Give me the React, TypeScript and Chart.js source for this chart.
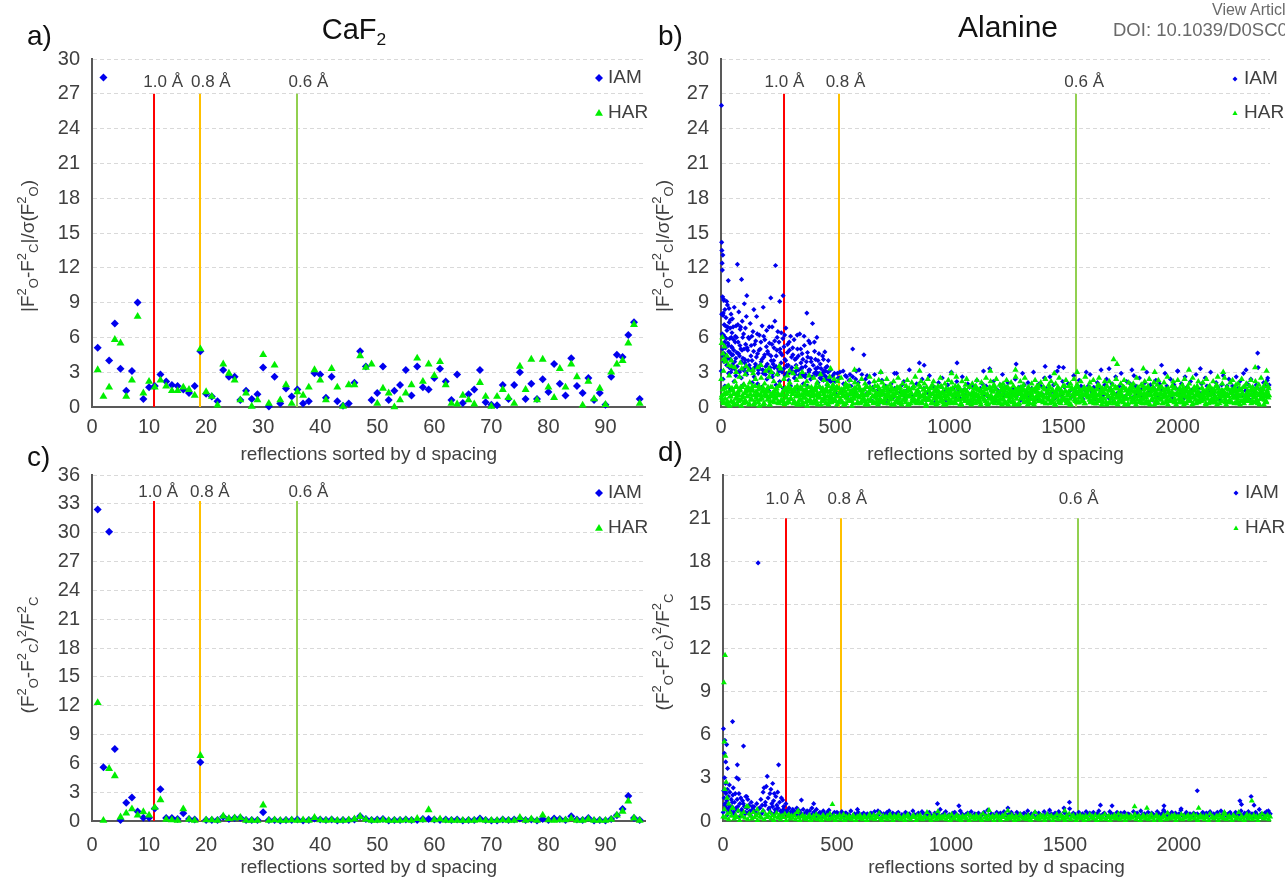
import React, { useEffect, useRef } from 'react';
import { Chart, registerables } from 'chart.js';

Chart.register(...registerables);

// ---------------- data ----------------
const lineLabels = ['1.0 Å', '0.8 Å', '0.6 Å'];
const cafLineX = [10.9, 18.9, 36.0];
const alaLineX = [278, 519, 1556];

const cafXTicks = [0, 10, 20, 30, 40, 50, 60, 70, 80, 90];
const alaXTicks = [0, 500, 1000, 1500, 2000];
const yTickStep = 3;

// CaF2, reflections 1..96
const cafSigmaIAM = [
  5.1, 28.4, 4.0, 7.2, 3.3, 1.4, 3.1, 9.0, 0.7, 1.7,
  1.8, 2.8, 2.2, 1.9, 1.8, 1.5, 1.2, 1.8, 4.8, 1.15,
  0.9, 0.5, 3.2, 2.6, 2.6, 0.6, 1.4, 0.7, 1.1, 3.4,
  0.05, 2.6, 0.3, 1.6, 0.9, 1.5, 0.3, 0.5, 2.9, 2.8,
  0.8, 2.6, 0.5, 0.1, 0.3, 2.1, 4.8, 3.5, 0.6, 1.2,
  3.5, 0.6, 1.4, 1.9, 3.2, 1.0, 3.5, 1.7, 1.5, 2.5,
  3.3, 2.2, 0.6, 2.8, 0.35, 1.1, 1.5, 3.2, 0.4, 0.2,
  0.15, 1.9, 0.7, 1.9, 3.0, 0.7, 2.0, 0.7, 2.4, 1.3,
  3.7, 2.0, 1.0, 4.2, 1.8, 1.2, 2.5, 0.6, 1.2, 0.2,
  2.6, 4.5, 4.3, 6.2, 7.3, 0.7,
];
const cafSigmaHAR = [
  3.2, 0.9, 1.7, 5.8, 5.5, 0.9, 2.3, 7.8, 1.2, 2.2,
  1.7, 2.3, 1.8, 1.4, 1.4, 1.7, 1.5, 1.0, 5.0, 1.3,
  0.9, 0.15, 3.7, 2.9, 2.3, 0.6, 1.2, 0.05, 0.6, 4.5,
  0.3, 3.6, 0.6, 1.9, 0.3, 1.3, 1.0, 1.7, 3.2, 2.3,
  0.6, 3.3, 1.7, 0.05, 1.9, 1.9, 4.4, 3.4, 3.7, 0.3,
  1.6, 1.2, 0.0, 0.6, 1.2, 1.9, 4.2, 2.2, 3.7, 2.7,
  3.9, 1.9, 0.3, 0.25, 1.0, 0.6, 0.25, 2.1, 0.9, 0.05,
  0.9, 1.5, 0.8, 0.3, 3.5, 1.5, 4.1, 0.6, 4.1, 1.7,
  0.8, 3.3, 1.7, 3.7, 2.6, 0.15, 2.2, 0.7, 1.6, 0.2,
  3.0, 3.7, 4.0, 5.5, 7.1, 0.3,
];
const cafChiIAM = [
  32.4, 5.6, 30.1, 7.5, 0.1, 1.9, 2.45, 1.0, 0.35, 0.35,
  1.3, 3.3, 0.3, 0.3, 0.2, 0.8, 0.2, 0.15, 6.1, 0.1,
  0.1, 0.1, 0.45, 0.2, 0.3, 0.35, 0.1, 0.1, 0.1, 0.9,
  0.1, 0.1, 0.05, 0.1, 0.1, 0.15, 0.05, 0.1, 0.25, 0.15,
  0.1, 0.15, 0.05, 0.1, 0.1, 0.15, 0.5, 0.2, 0.1, 0.15,
  0.2, 0.05, 0.1, 0.1, 0.15, 0.1, 0.1, 0.2, 0.2, 0.15,
  0.1, 0.15, 0.1, 0.15, 0.05, 0.1, 0.1, 0.25, 0.1, 0.05,
  0.05, 0.15, 0.1, 0.15, 0.25, 0.1, 0.15, 0.05, 0.2, 0.1,
  0.25, 0.2, 0.1, 0.5, 0.15, 0.1, 0.3, 0.05, 0.1, 0.05,
  0.2, 0.6, 1.25, 2.6, 0.3, 0.1,
];
const cafChiHAR = [
  12.3, 0.05, 5.45, 4.7, 0.4, 0.8, 1.25, 0.6, 0.95, 0.6,
  1.4, 2.2, 0.15, 0.1, 0.05, 1.25, 0.15, 0.05, 6.8, 0.1,
  0.1, 0.05, 0.5, 0.25, 0.3, 0.35, 0.05, 0.05, 0.05, 1.65,
  0.05, 0.1, 0.05, 0.05, 0.1, 0.05, 0.1, 0.05, 0.35, 0.1,
  0.05, 0.1, 0.05, 0.05, 0.1, 0.2, 0.45, 0.15, 0.05, 0.05,
  0.1, 0.05, 0.05, 0.05, 0.1, 0.05, 0.25, 0.1, 1.15, 0.1,
  0.2, 0.05, 0.05, 0.05, 0.05, 0.05, 0.05, 0.1, 0.05, 0.05,
  0.05, 0.1, 0.05, 0.05, 0.35, 0.05, 0.2, 0.05, 0.6, 0.1,
  0.05, 0.1, 0.1, 0.25, 0.05, 0.05, 0.2, 0.05, 0.05, 0.05,
  0.15, 0.6, 1.0, 2.05, 0.3, 0.05,
];

// Alanine |Fo2-Fc2|/sigma : dense band sampled every few reflections
const alaSigmaHARStep = 5;
const alaSigmaHARFirst = 1;
const alaSigmaHARBand = [
  2.4, 0.6, 3.1, 1.2, 4.0, 0.3, 1.8, 2.7, 0.9, 3.5, 1.5, 0.2, 2.2, 3.0, 1.1, 0.5, 2.6, 1.7, 3.3, 0.8,
  1.9, 2.8, 0.4, 1.4, 3.2, 2.1, 0.7, 1.6, 2.9, 0.3, 2.4, 1.0, 3.4, 1.8, 0.6, 2.5, 1.3, 0.2, 2.0, 3.1,
  0.9, 1.7, 2.6, 0.5, 3.0, 1.2, 2.2, 0.8, 1.5, 2.8, 0.4, 1.9, 3.3, 1.1, 0.6, 2.4, 1.4, 0.3, 2.7, 1.8,
  2.1, 0.7, 1.3, 2.9, 0.5, 1.6, 2.3, 1.0, 0.2, 2.6, 1.5, 3.0, 0.8, 1.9, 0.4, 2.2, 1.2, 2.7, 0.6, 1.7,
  1.4, 2.5, 0.3, 1.8, 2.1, 0.9, 1.1, 2.8, 0.5, 1.6, 2.3, 0.7, 1.3, 2.0, 0.2, 2.6, 1.5, 0.8, 1.9, 2.4,
  0.6, 1.7, 2.2, 0.4, 1.2, 2.5, 0.9, 1.5, 0.2, 2.0, 1.1, 0.7, 1.8, 2.3, 0.5, 1.3, 0.9, 2.1, 1.6, 0.3,
  1.9, 0.8, 1.4, 2.4, 0.6, 1.0, 2.0, 0.3, 1.7, 1.2, 2.6, 0.5, 1.5, 0.9, 2.2, 1.1, 0.4, 1.8, 2.3, 0.7,
  1.3, 2.1, 0.5, 1.6, 0.9, 2.4, 1.2, 0.3, 1.9, 0.7, 1.5, 2.2, 1.0, 0.4, 1.7, 2.5, 0.8, 1.4, 0.2, 2.0,
  1.1, 0.6, 1.8, 2.3, 0.9, 1.4, 0.3, 2.1, 1.6, 0.7, 2.6, 1.2, 0.5, 1.9, 1.0, 2.2, 0.4, 1.5, 2.0, 0.8,
  1.7, 2.4, 0.6, 1.2, 0.3, 1.9, 2.2, 0.9, 1.4, 0.5, 1.8, 1.1, 2.5, 0.7, 1.3, 0.2, 2.0, 1.6, 0.9, 2.3,
  0.5, 1.5, 2.1, 1.0, 0.4, 1.8, 2.6, 1.2, 0.7, 1.6, 0.3, 2.2, 1.4, 0.8, 1.9, 2.4, 0.6, 1.1, 1.7, 0.2,
  2.0, 1.3, 0.6, 1.8, 2.3, 0.9, 1.5, 0.4, 2.1, 1.2, 0.7, 1.7, 2.5, 1.0, 0.3, 1.6, 2.2, 0.8, 1.4, 1.9,
  0.7, 2.4, 1.1, 0.5, 1.9, 1.4, 0.2, 2.0, 1.7, 0.9, 2.3, 1.2, 0.6, 1.5, 2.1, 0.4, 1.8, 1.0, 2.6, 1.3,
  1.6, 0.3, 2.2, 1.4, 0.8, 1.9, 2.5, 1.1, 0.5, 1.7, 1.2, 0.7, 2.0, 1.5, 0.2, 2.3, 0.9, 1.3, 1.8, 0.6,
  2.1, 1.0, 0.4, 1.6, 2.4, 0.8, 1.3, 1.9, 0.3, 2.2, 1.5, 0.6, 1.1, 2.0, 0.9, 1.7, 2.5, 0.5, 1.4, 1.2,
  0.8, 1.8, 2.3, 0.6, 1.2, 0.3, 2.0, 1.6, 1.0, 2.4, 0.7, 1.4, 1.9, 0.4, 1.5, 2.2, 1.1, 0.5, 1.7, 2.6,
  1.3, 0.9, 1.7, 2.1, 0.5, 1.5, 2.3, 0.8, 1.2, 0.3, 1.9, 2.5, 1.0, 0.6, 1.6, 1.2, 2.2, 0.4, 1.8, 0.9,
  2.2, 1.4, 0.7, 1.9, 1.1, 0.3, 2.4, 1.6, 0.9, 1.3, 2.0, 0.5, 1.7, 2.3, 0.8, 1.5, 0.2, 2.1, 1.2, 1.8,
  0.6, 2.0, 1.3, 0.9, 2.5, 1.7, 0.4, 1.2, 1.9, 0.7, 1.5, 2.2, 1.0, 0.3, 1.8, 2.4, 1.1, 0.6, 1.6, 2.1,
  1.4, 0.5, 1.9, 2.3, 0.8, 1.2, 1.7, 0.3, 2.1, 1.5, 0.9, 2.6, 1.3, 0.6, 1.0, 1.8, 2.2, 0.4, 1.6, 1.1,
  2.3, 0.7, 1.5, 1.0, 1.9, 0.4, 2.4, 1.3, 0.8, 1.7, 2.0, 0.5, 1.2, 2.5, 0.9, 1.4, 0.3, 1.8, 2.2, 1.0,
  0.9, 1.6, 2.1, 0.6, 1.3, 2.4, 1.0, 0.3, 1.8, 1.2, 0.7, 2.2, 1.5, 0.4, 1.9, 2.6, 1.1, 0.8, 1.4, 2.0,
  1.2, 2.5, 0.6, 1.7, 1.0, 0.4, 2.1, 1.5, 2.3, 0.8, 1.3, 1.9, 0.5, 2.0, 1.6, 0.9, 2.4, 1.1, 0.3, 1.7,
  2.0, 1.1, 0.7, 1.8, 2.3, 0.5, 1.4, 0.9, 2.2, 1.6, 0.3, 1.9, 1.2, 2.5, 0.8, 1.5, 0.6, 2.1, 1.3, 1.8,
  1.0,
];
const alaSigmaHARFirst2 = 3;
const alaSigmaHARBand2 = [
  0.8, 1.5, 0.3, 1.1, 1.7, 0.5, 1.3, 0.1, 0.9, 1.6, 0.4, 1.2, 0.7, 1.8, 0.2, 1.0, 1.4, 0.6, 1.7, 0.3,
  1.2, 0.5, 1.6, 0.9, 0.2, 1.4, 0.7, 1.8, 1.0, 0.4, 1.3, 0.6, 1.5, 0.1, 1.1, 0.8, 1.7, 0.3, 1.0, 1.4,
  0.6, 1.3, 0.2, 1.7, 0.9, 1.1, 0.4, 1.5, 0.7, 1.2, 0.3, 1.8, 0.5, 1.0, 1.4, 0.2, 1.6, 0.8, 1.3, 0.4,
  1.5, 0.7, 1.1, 0.3, 1.6, 0.9, 0.2, 1.3, 0.6, 1.7, 1.0, 0.4, 1.2, 0.8, 1.5, 0.1, 1.1, 0.6, 1.4, 0.9,
  0.3, 1.0, 1.6, 0.5, 1.2, 0.8, 1.7, 0.2, 1.4, 0.6, 1.1, 0.3, 1.5, 0.9, 0.4, 1.3, 0.7, 1.8, 0.5, 1.1,
  1.4, 0.2, 0.9, 1.6, 0.6, 1.2, 0.4, 1.0, 1.7, 0.3, 0.8, 1.5, 0.5, 1.3, 0.1, 1.1, 0.7, 1.4, 0.9, 0.4,
  0.9, 1.6, 0.4, 1.2, 0.7, 1.5, 0.2, 1.0, 0.6, 1.3, 1.7, 0.5, 0.9, 0.3, 1.4, 0.8, 1.1, 0.2, 1.6, 1.0,
  0.5, 1.1, 1.4, 0.3, 0.8, 1.7, 1.0, 0.6, 1.3, 0.2, 1.5, 0.9, 0.4, 1.2, 0.7, 1.6, 0.3, 1.0, 1.3, 0.6,
  1.3, 0.4, 1.0, 1.5, 0.2, 0.9, 1.2, 0.7, 1.6, 0.5, 1.1, 0.3, 1.4, 0.8, 1.7, 0.4, 1.0, 0.6, 1.2, 0.1,
  0.7, 1.4, 0.6, 1.1, 1.6, 0.3, 1.3, 0.8, 0.2, 1.5, 0.9, 1.2, 0.5, 1.7, 0.4, 1.0, 0.7, 1.3, 0.3, 1.5,
  1.1, 0.3, 1.5, 0.8, 0.4, 1.2, 0.6, 1.6, 1.0, 0.2, 1.3, 0.7, 1.1, 0.5, 1.4, 0.9, 0.3, 1.7, 0.6, 1.2,
  0.4, 1.2, 0.9, 1.6, 0.5, 1.0, 1.4, 0.2, 0.8, 1.3, 0.6, 1.5, 0.3, 1.1, 0.7, 1.7, 1.0, 0.4, 1.3, 0.8,
  1.6, 0.6, 1.2, 0.3, 1.0, 1.5, 0.7, 1.3, 0.4, 0.9, 1.7, 0.2, 1.1, 0.8, 1.4, 0.5, 1.2, 0.3, 0.9, 1.5,
  0.2, 1.3, 0.7, 1.1, 1.6, 0.4, 0.9, 1.4, 0.6, 1.2, 0.3, 1.0, 1.5, 0.7, 0.4, 1.3, 0.8, 1.6, 0.5, 1.1,
  1.0, 0.5, 1.7, 0.8, 0.3, 1.2, 1.5, 0.6, 1.1, 0.4, 1.4, 0.9, 0.2, 1.3, 1.0, 0.6, 1.5, 0.3, 1.2, 0.8,
  0.6, 1.4, 0.3, 1.0, 1.3, 0.7, 0.2, 1.6, 0.9, 1.2, 0.5, 1.1, 1.7, 0.4, 0.8, 1.4, 0.6, 1.0, 0.3, 1.5,
  1.2, 0.8, 1.5, 0.4, 1.1, 0.6, 1.4, 0.9, 0.3, 1.6, 1.0, 0.5, 1.3, 0.2, 1.2, 0.7, 1.5, 0.4, 1.1, 0.9,
  0.3, 1.5, 0.9, 1.3, 0.5, 1.7, 0.8, 0.2, 1.2, 0.6, 1.4, 1.0, 0.4, 1.6, 0.7, 1.1, 0.3, 1.3, 0.8, 1.4,
  1.4, 0.6, 1.0, 0.2, 1.5, 0.9, 1.3, 0.5, 1.1, 0.7, 0.3, 1.6, 0.8, 1.2, 0.4, 1.5, 1.0, 0.6, 1.7, 0.2,
  0.8, 1.2, 0.4, 1.6, 0.7, 1.1, 0.3, 1.4, 0.9, 1.5, 0.6, 0.2, 1.3, 1.0, 0.5, 1.2, 1.6, 0.7, 0.4, 1.1,
  1.1, 0.4, 1.3, 0.7, 1.6, 0.2, 1.0, 1.5, 0.5, 0.9, 1.4, 0.8, 1.2, 0.3, 1.7, 0.6, 1.0, 1.3, 0.4, 0.9,
  0.5, 1.6, 0.9, 1.2, 0.3, 1.4, 0.7, 1.0, 1.5, 0.4, 1.1, 0.6, 1.3, 0.8, 0.2, 1.6, 0.9, 1.2, 0.5, 1.4,
  1.3, 0.7, 0.2, 1.1, 1.5, 0.6, 1.2, 0.4, 1.0, 1.6, 0.8, 1.3, 0.3, 1.4, 0.9, 0.5, 1.1, 1.7, 0.6, 1.0,
  0.9, 1.4, 0.6, 1.0, 0.3, 1.5, 0.8, 1.2, 0.5, 1.7, 0.4, 1.1, 0.7, 1.3, 1.6, 0.2, 1.0, 0.5, 1.4, 0.8,
];
const alaSigmaHARFirst3 = 4;
const alaSigmaHARBand3 = [
  1.0, 0.4, 1.6, 0.7, 1.2, 0.2, 1.8, 0.9, 0.5, 1.4, 1.1, 0.3, 1.7, 0.8, 1.3, 0.6, 1.5, 0.1, 1.0, 1.9,
  0.5, 1.3, 0.9, 1.7, 0.3, 1.1, 0.6, 1.4, 0.2, 1.8, 0.8, 1.2, 0.4, 1.6, 1.0, 0.7, 1.5, 0.3, 1.2, 0.9,
  1.4, 0.8, 0.2, 1.1, 1.7, 0.5, 1.3, 0.9, 1.6, 0.4, 1.0, 1.8, 0.6, 1.2, 0.3, 1.5, 0.8, 1.1, 0.5, 1.7,
  0.7, 1.5, 1.1, 0.3, 1.3, 0.9, 1.8, 0.4, 1.0, 0.6, 1.6, 0.2, 1.4, 0.8, 1.2, 0.5, 1.7, 1.0, 0.3, 1.3,
  1.2, 0.6, 1.4, 1.0, 0.2, 1.7, 0.8, 1.3, 0.5, 1.1, 0.9, 1.5, 0.3, 1.8, 0.7, 1.0, 0.4, 1.6, 1.2, 0.6,
  0.9, 1.7, 0.4, 1.2, 0.6, 1.5, 1.0, 0.2, 1.3, 0.8, 1.8, 0.5, 1.1, 0.7, 1.4, 0.3, 1.6, 0.9, 1.2, 0.4,
  1.6, 0.3, 1.0, 1.4, 0.8, 0.5, 1.7, 1.1, 0.2, 1.3, 0.6, 1.5, 0.9, 0.4, 1.8, 1.0, 0.7, 1.2, 0.5, 1.4,
  0.4, 1.2, 1.8, 0.6, 1.0, 1.4, 0.3, 0.9, 1.6, 0.7, 1.1, 0.2, 1.5, 1.3, 0.5, 0.8, 1.7, 0.4, 1.0, 1.3,
  1.1, 0.7, 1.3, 0.2, 1.6, 0.9, 1.2, 0.5, 1.8, 1.0, 0.4, 1.4, 0.6, 1.1, 1.7, 0.3, 0.9, 1.5, 0.8, 0.2,
  0.6, 1.4, 0.9, 1.7, 0.4, 1.1, 0.7, 1.6, 1.0, 0.3, 1.3, 0.8, 1.8, 0.5, 1.2, 0.9, 0.2, 1.4, 1.1, 0.7,
  1.3, 0.5, 1.6, 0.8, 1.2, 0.3, 1.0, 1.8, 0.6, 1.4, 0.2, 1.1, 0.7, 1.5, 0.9, 1.3, 0.4, 1.7, 0.6, 1.0,
  0.8, 1.6, 0.3, 1.1, 1.5, 0.7, 0.4, 1.3, 0.9, 1.7, 1.2, 0.5, 1.0, 0.2, 1.6, 0.8, 1.4, 0.6, 1.8, 0.3,
  1.5, 0.9, 1.2, 0.4, 0.7, 1.8, 1.1, 0.6, 1.4, 0.3, 1.0, 1.6, 0.5, 1.3, 0.8, 1.1, 0.2, 1.5, 0.7, 1.2,
  0.3, 1.1, 1.7, 0.9, 1.4, 0.5, 1.2, 0.8, 0.2, 1.6, 0.7, 1.3, 1.0, 0.4, 1.5, 0.6, 1.8, 0.9, 1.1, 0.5,
  1.2, 0.6, 0.9, 1.5, 0.3, 1.3, 0.7, 1.7, 1.0, 0.5, 1.4, 0.8, 0.2, 1.1, 1.6, 0.4, 1.0, 1.3, 0.6, 1.8,
  0.7, 1.3, 0.5, 1.0, 1.8, 0.2, 1.5, 0.9, 1.2, 0.6, 1.7, 0.4, 1.1, 0.8, 1.3, 1.0, 0.5, 1.6, 0.3, 1.1,
  1.4, 1.0, 0.6, 1.6, 0.9, 1.2, 0.3, 1.1, 0.7, 1.5, 0.5, 1.8, 0.8, 1.3, 0.4, 1.2, 1.6, 0.2, 0.9, 1.4,
  0.5, 1.5, 1.2, 0.3, 1.1, 0.8, 1.6, 0.4, 1.3, 0.9, 1.0, 0.6, 1.7, 0.2, 1.4, 0.7, 1.1, 1.5, 0.8, 0.4,
  1.7, 0.8, 0.4, 1.3, 0.6, 1.0, 1.4, 0.7, 0.3, 1.8, 1.2, 0.9, 0.5, 1.6, 1.0, 0.2, 1.3, 0.7, 1.5, 1.1,
  0.9, 0.3, 1.5, 1.1, 1.7, 0.6, 0.8, 1.4, 1.2, 0.4, 0.7, 1.6, 1.0, 0.5, 1.3, 1.8, 0.6, 1.1, 0.2, 1.2,
  1.0, 1.6, 0.7, 0.4, 1.2, 1.5, 0.9, 0.3, 1.7, 1.1, 0.6, 1.3, 0.2, 1.4, 0.8, 1.0, 1.6, 0.5, 1.2, 0.7,
  0.6, 1.1, 1.4, 0.8, 0.2, 1.3, 1.7, 1.0, 0.5, 1.2, 1.5, 0.4, 0.9, 1.8, 0.6, 1.3, 0.3, 1.1, 1.4, 0.9,
  1.3, 0.4, 1.0, 1.6, 0.9, 0.5, 1.2, 1.4, 0.8, 0.3, 1.6, 1.1, 0.7, 1.0, 0.2, 1.5, 1.2, 0.6, 1.7, 0.5,
  0.8, 1.2, 0.5, 1.4, 1.1, 1.7, 0.4, 0.9, 1.3, 0.6, 1.0, 0.2, 1.5, 0.7, 1.2, 1.8, 0.9, 0.4, 1.1, 1.6,
];
const alaSigmaHARPeaks = [
  [3, 5.5], [6, 6.0], [9, 4.6], [12, 4.1], [15, 5.2], [20, 3.9], [26, 4.4], [33, 3.6], [45, 4.0], [60, 3.4],
  [85, 3.8], [110, 3.5], [140, 3.2], [175, 3.6], [210, 3.3], [255, 3.5], [300, 3.1], [330, 3.4], [480, 3.3], [585, 3.2],
  [700, 3.0], [870, 3.1], [1010, 2.9], [1180, 3.1], [1290, 3.2], [1460, 2.9], [1560, 3.0], [1720, 4.1], [1735, 3.7], [1850, 3.3],
  [1900, 3.0], [2050, 3.2], [2200, 3.0], [2340, 3.4], [2390, 3.1],
];
const alaSigmaIAMFirst = 1;
const alaSigmaIAMStep = 8;
const alaSigmaIAMBand = [
  3.1, 2.4, 1.8, 3.6, 2.9, 1.5, 3.3, 2.2, 2.7, 1.2, 3.0, 2.5, 1.9, 3.4, 2.8, 1.6, 3.2, 2.1, 2.6, 3.5,
  2.0, 3.3, 1.7, 2.9, 3.1, 2.4, 1.4, 3.0, 2.6, 3.4, 1.9, 2.8, 2.2, 3.2, 1.6, 2.7, 3.5, 2.3, 1.8, 3.0,
  2.5, 3.1, 1.5, 2.8, 3.3, 2.0, 2.6, 1.8, 3.2, 2.4, 1.4, 2.9, 3.0, 2.1, 1.7, 2.7, 2.3, 3.1, 1.9, 2.5,
  2.2, 1.6, 2.9, 1.1, 2.5, 3.0, 1.4, 2.0, 2.7, 0.9, 2.3, 1.8, 2.6, 1.2, 3.1, 2.1, 1.5, 2.8, 1.0, 2.4,
  1.2, 2.1, 0.6, 1.7, 2.8, 0.9, 1.5, 0.4, 2.3, 1.1, 1.8, 0.5, 1.4, 2.0, 0.8, 1.6, 2.9, 0.7, 1.3, 1.9,
  2.2, 0.8, 1.5, 3.2, 1.0, 1.7, 0.5, 2.0, 1.3, 0.9, 2.4, 1.6, 0.6, 1.2, 2.7, 1.1, 1.8, 0.4, 1.4, 2.1,
  0.9, 2.5, 1.3, 0.6, 1.9, 1.2, 3.0, 1.6, 0.8, 2.2, 1.4, 0.7, 2.6, 1.5, 1.0, 2.0, 1.7, 0.5, 1.8, 1.1,
  2.3, 0.7, 1.6, 2.0, 1.1, 1.8, 0.9, 3.3, 1.4, 2.2, 0.5, 1.5, 1.2, 1.9, 2.8, 1.0, 1.7, 2.1, 0.8, 1.3,
  1.5, 2.4, 1.0, 1.7, 0.6, 2.9, 1.9, 1.2, 2.1, 0.9, 1.6, 3.0, 1.4, 0.7, 2.0, 1.8, 1.1, 2.5, 1.6, 0.8,
  2.6, 1.3, 1.9, 0.8, 3.1, 1.5, 1.0, 2.2, 1.7, 0.6, 2.0, 1.4, 0.9, 2.7, 1.6, 1.2, 2.3, 1.8, 0.7, 1.5,
  1.1, 1.8, 2.8, 1.3, 1.7, 0.7, 2.1, 1.5, 3.2, 1.0, 1.9, 2.4, 0.8, 1.6, 2.0, 0.5, 2.6, 1.2, 1.8, 2.9,
  1.7, 0.9, 2.2, 1.4, 2.0, 0.8, 2.7, 1.8, 1.1, 2.5, 1.5, 0.9, 2.1, 3.0, 1.3, 1.9, 0.6, 1.6, 2.3, 1.0,
  2.0, 1.5, 1.0, 2.9, 1.8, 1.3, 2.4, 0.8, 1.9, 1.6, 3.1, 1.1, 2.0, 0.7, 2.6, 1.7, 1.2, 2.2, 1.5, 0.9,
  2.8, 1.6, 1.2, 2.0, 0.8, 2.5, 1.8, 1.4, 3.0, 1.5, 1.0, 2.1, 1.7, 0.6, 1.9, 2.7, 1.1, 1.8, 2.4, 1.3,
  1.8, 0.9, 2.6, 1.6, 2.2, 1.0, 2.9, 1.4, 2.0, 0.7, 2.4, 1.7, 1.2, 1.9, 3.4, 1.5, 0.8, 2.1, 1.8, 2.3,
  1.9,
];
const alaSigmaIAMCloud = [
  [2, 26.0], [3, 14.2], [4, 13.5], [5, 12.4], [6, 11.8], [7, 9.5], [8, 13.1], [9, 7.9], [10, 8.1], [11, 6.2],
  [12, 9.2], [13, 5.4], [14, 7.1], [15, 4.6], [17, 8.4], [18, 6.0], [20, 5.1], [22, 7.7], [24, 4.3], [26, 6.6],
  [28, 8.8], [30, 5.5], [32, 10.9], [34, 4.8], [36, 7.3], [38, 5.9], [40, 6.8], [42, 4.1], [44, 8.0], [46, 5.2],
  [48, 6.4], [50, 7.6], [52, 4.5], [55, 5.8], [58, 8.6], [60, 3.9], [63, 6.1], [66, 7.0], [69, 4.7], [72, 12.3],
  [75, 5.6], [78, 8.2], [81, 4.4], [84, 6.7], [87, 5.0], [90, 11.0], [93, 7.4], [96, 4.2], [99, 6.3], [102, 8.9],
  [105, 3.8], [108, 5.4], [111, 7.8], [113, 9.6], [117, 4.9], [120, 6.0], [124, 3.6], [128, 7.2], [132, 5.3], [136, 4.0],
  [140, 6.5], [144, 8.4], [148, 3.4], [152, 5.7], [156, 7.8], [160, 4.6], [164, 3.2], [168, 6.2], [172, 5.0], [176, 3.9],
  [180, 7.0], [185, 8.6], [188, 4.3], [192, 5.8], [196, 3.5], [200, 6.6], [204, 4.8], [208, 3.1], [212, 5.5], [218, 9.4],
  [220, 4.0], [224, 6.9], [228, 3.7], [232, 5.1], [236, 7.4], [239, 12.2], [242, 4.4], [246, 6.0], [250, 3.3], [254, 5.6],
  [257, 9.1], [260, 4.7], [264, 6.4], [268, 3.0], [272, 9.6], [276, 5.2], [280, 4.1], [284, 6.8], [288, 3.6], [292, 5.4],
  [296, 2.9], [300, 4.9], [305, 6.1], [310, 3.4], [315, 4.5], [320, 5.8], [325, 2.8], [330, 4.2], [335, 5.0], [340, 3.2],
  [345, 6.3], [350, 3.8], [355, 4.6], [360, 2.7], [365, 5.3], [370, 3.5], [376, 8.1], [380, 4.3], [385, 3.0], [390, 5.5],
  [395, 3.9], [401, 7.2], [405, 2.6], [410, 4.8], [415, 3.3], [420, 6.0], [425, 4.0], [430, 2.9], [435, 3.7], [440, 2.4],
  [445, 4.4], [450, 3.1], [455, 4.75], [460, 2.6], [465, 3.5], [470, 4.0], [475, 2.3], [480, 3.2], [490, 2.7], [500, 2.2],
  [510, 2.9], [520, 2.5], [535, 3.1], [550, 2.6], [565, 2.8], [577, 5.0], [590, 2.4], [605, 3.2], [626, 4.5], [640, 2.7],
  [3, 8.0], [5, 6.3], [7, 5.0], [9, 4.4], [11, 9.3], [13, 3.9], [16, 5.6], [19, 7.0], [21, 4.0], [23, 5.9],
  [25, 9.1], [27, 3.6], [29, 6.9], [31, 4.2], [33, 5.3], [35, 8.5], [37, 3.4], [39, 4.7], [41, 7.5], [43, 3.0],
  [45, 6.0], [47, 4.5], [49, 5.1], [51, 3.7], [53, 6.9], [56, 4.9], [59, 3.3], [62, 5.6], [65, 4.2], [68, 6.0],
  [71, 3.5], [74, 7.1], [77, 4.6], [80, 3.1], [83, 5.3], [86, 6.9], [89, 3.9], [92, 4.9], [95, 6.0], [98, 3.2],
  [101, 5.0], [104, 4.1], [107, 6.8], [110, 3.0], [115, 5.1], [119, 4.0], [123, 5.9], [127, 3.3], [131, 4.4], [135, 6.1],
  [139, 3.1], [143, 4.8], [147, 5.4], [151, 3.7], [155, 4.3], [159, 6.3], [163, 2.9], [167, 4.9], [171, 3.6], [175, 5.6],
  [179, 4.1], [183, 3.2], [187, 6.1], [191, 4.5], [195, 2.8], [199, 5.2], [203, 3.7], [207, 4.6], [211, 6.9], [215, 3.4],
  [219, 4.4], [223, 5.4], [227, 2.9], [231, 4.0], [235, 5.7], [241, 3.5], [245, 4.9], [249, 6.5], [253, 3.1], [259, 5.0],
  [263, 3.8], [267, 4.5], [271, 5.9], [275, 3.3], [279, 6.2], [283, 4.0], [287, 2.9], [291, 4.7], [295, 3.6], [299, 5.6],
  [304, 3.2], [309, 4.3], [314, 5.1], [319, 3.0], [324, 4.1], [329, 3.6], [334, 6.2], [339, 4.4], [344, 2.7], [349, 5.0],
  [354, 3.4], [359, 4.1], [364, 6.1], [369, 2.8], [374, 3.9], [379, 4.7], [384, 5.7], [389, 3.2], [394, 4.2], [399, 2.6],
  [404, 3.6], [409, 5.6], [414, 4.1], [419, 2.8], [424, 3.4], [429, 4.6], [434, 2.5], [439, 3.3], [444, 2.9], [449, 4.1],
  [454, 2.7], [459, 3.4], [464, 2.4], [469, 3.0],
];
const alaSigmaIAMPeaks = [
  [700, 3.0], [760, 2.9], [869, 3.8], [890, 3.6], [1034, 3.8], [1150, 3.1], [1293, 3.7], [1420, 3.5], [1480, 3.45], [1500, 3.4],
  [1600, 3.0], [1700, 3.3], [1800, 3.2], [1930, 3.6], [2000, 3.1], [2100, 3.3], [2200, 2.9], [2300, 3.2], [2351, 4.65], [2395, 2.5],
];

// Alanine (Fo2-Fc2)^2/Fc2
const alaChiHARFirst = 1;
const alaChiHARStep = 6;
const alaChiHARBand = [
  0.3, 0.8, 0.2, 0.5, 0.1, 0.6, 0.35, 0.9, 0.15, 0.4, 0.25, 0.7, 0.05, 0.45, 0.3, 0.6, 0.2, 1.0, 0.1, 0.5,
  0.35, 0.15, 0.6, 0.25, 0.4, 0.05, 0.5, 0.3, 0.2, 0.7, 0.1, 0.45, 0.25, 0.35, 0.6, 0.15, 0.4, 0.05, 0.3, 0.55,
  0.2, 0.4, 0.1, 0.35, 0.25, 0.5, 0.05, 0.3, 0.45, 0.15, 0.35, 0.2, 0.4, 0.1, 0.6, 0.25, 0.05, 0.3, 0.4, 0.15,
  0.3, 0.1, 0.25, 0.4, 0.05, 0.2, 0.35, 0.15, 0.45, 0.1, 0.3, 0.2, 0.05, 0.4, 0.25, 0.15, 0.35, 0.1, 0.5, 0.2,
  0.15, 0.35, 0.05, 0.3, 0.2, 0.4, 0.1, 0.25, 0.45, 0.05, 0.3, 0.15, 0.35, 0.2, 0.1, 0.4, 0.25, 0.05, 0.3, 0.2,
  0.4, 0.2, 0.1, 0.35, 0.25, 0.05, 0.3, 0.45, 0.15, 0.2, 0.4, 0.1, 0.3, 0.25, 0.55, 0.15, 0.05, 0.35, 0.2, 0.3,
  0.1, 0.3, 0.45, 0.2, 0.05, 0.35, 0.25, 0.15, 0.4, 0.3, 0.1, 0.2, 0.35, 0.05, 0.3, 0.45, 0.2, 0.1, 0.25, 0.4,
  0.25, 0.05, 0.35, 0.15, 0.4, 0.2, 0.1, 0.3, 0.25, 0.6, 0.15, 0.35, 0.05, 0.2, 0.4, 0.3, 0.1, 0.25, 0.35, 0.15,
  0.3, 0.2, 0.4, 0.1, 0.25, 0.35, 0.05, 0.45, 0.2, 0.15, 0.3, 0.4, 0.1, 0.25, 0.05, 0.35, 0.2, 0.3, 0.15, 0.45,
  0.05, 0.35, 0.2, 0.3, 0.1, 0.4, 0.25, 0.15, 0.35, 0.05, 0.5, 0.2, 0.3, 0.1, 0.4, 0.15, 0.25, 0.35, 0.05, 0.3,
  0.4, 0.15, 0.3, 0.05, 0.35, 0.25, 0.45, 0.1, 0.2, 0.3, 0.15, 0.4, 0.25, 0.05, 0.35, 0.2, 0.1, 0.45, 0.3, 0.2,
  0.15, 0.3, 0.1, 0.4, 0.2, 0.05, 0.35, 0.25, 0.6, 0.15, 0.3, 0.1, 0.4, 0.2, 0.35, 0.05, 0.25, 0.45, 0.15, 0.3,
  0.35, 0.05, 0.25, 0.2, 0.45, 0.1, 0.3, 0.4, 0.15, 0.25, 0.05, 0.35, 0.2, 0.5, 0.1, 0.3, 0.4, 0.2, 0.05, 0.35,
  0.2, 0.4, 0.15, 0.3, 0.05, 0.35, 0.25, 0.1, 0.45, 0.2, 0.3, 0.15, 0.4, 0.05, 0.25, 0.35, 0.1, 0.3, 0.2, 0.45,
  0.1, 0.25, 0.35, 0.05, 0.3, 0.2, 0.4, 0.15, 0.25, 0.5, 0.1, 0.35, 0.2, 0.3, 0.05, 0.4, 0.25, 0.15, 0.35, 0.2,
  0.3, 0.45, 0.1, 0.25, 0.35, 0.05, 0.2, 0.4, 0.3, 0.15, 0.35, 0.1, 0.25, 0.45, 0.2, 0.05, 0.3, 0.4, 0.15, 0.25,
  0.05, 0.2, 0.4, 0.3, 0.1, 0.55, 0.25, 0.15, 0.35, 0.2, 0.4, 0.05, 0.3, 0.25, 0.15, 0.45, 0.1, 0.35, 0.2, 0.3,
  0.4, 0.1, 0.3, 0.2, 0.45, 0.15, 0.35, 0.05, 0.25, 0.4, 0.2, 0.3, 0.1, 0.35, 0.25, 0.05, 0.5, 0.2, 0.3, 0.15,
  0.25, 0.35, 0.05, 0.4, 0.2, 0.3, 0.15, 0.45, 0.1, 0.25, 0.35, 0.2, 0.05, 0.4, 0.3, 0.15, 0.25, 0.6, 0.1, 0.35,
  0.2, 0.05, 0.3, 0.45, 0.15, 0.35, 0.25, 0.1, 0.4, 0.2, 0.3, 0.05, 0.35, 0.25, 0.5, 0.15, 0.3, 0.2, 0.4, 0.1,
  0.3,
];
const alaChiHARPeaks = [
  [4, 9.6], [9, 11.5], [6, 5.5], [11, 4.5], [14, 2.7], [8, 2.2], [18, 1.6], [25, 1.2], [40, 0.9], [109, 1.0],
  [150, 0.8], [330, 0.7], [480, 1.15], [943, 0.65], [1167, 0.75], [1250, 0.7], [1500, 0.7], [1806, 1.0], [1860, 0.9], [2087, 0.9],
  [2200, 0.6], [2320, 1.4],
];
const alaChiIAMFirst = 1;
const alaChiIAMStep = 8;
const alaChiIAMBand = [
  0.6, 1.1, 0.4, 0.9, 0.7, 1.3, 0.5, 0.8, 1.0, 0.3, 0.7, 1.2, 0.5, 0.9, 0.6, 0.4, 1.0, 0.7, 0.5, 0.8,
  0.9, 0.5, 0.7, 1.1, 0.4, 0.8, 0.6, 1.0, 0.5, 0.7, 0.9, 0.4, 0.6, 0.8, 0.5, 0.7, 0.4, 0.6, 0.5, 0.7,
  0.5, 0.35, 0.6, 0.45, 0.3, 0.55, 0.7, 0.4, 0.25, 0.5, 0.65, 0.35, 0.45, 0.55, 0.3, 0.6, 0.4, 0.5, 0.75, 0.35,
  0.45, 0.6, 0.3, 0.5, 0.4, 0.65, 0.25, 0.55, 0.35, 0.45, 0.7, 0.3, 0.5, 0.4, 0.6, 0.25, 0.45, 0.55, 0.35, 0.5,
  0.3, 0.55, 0.45, 0.65, 0.35, 0.4, 0.6, 0.25, 0.5, 0.45, 0.3, 0.7, 0.4, 0.55, 0.35, 0.5, 0.6, 0.3, 0.45, 0.4,
  0.6, 0.35, 0.5, 0.3, 0.7, 0.45, 0.4, 0.55, 0.35, 0.65, 0.5, 0.25, 0.45, 0.6, 0.4, 0.3, 0.55, 0.5, 0.35, 0.8,
  0.4, 0.5, 0.65, 0.35, 0.45, 0.3, 0.55, 0.6, 0.4, 0.35, 0.7, 0.5, 0.3, 0.45, 0.55, 0.4, 0.65, 0.35, 0.5, 0.45,
  0.55, 0.3, 0.45, 0.6, 0.4, 0.75, 0.35, 0.5, 0.45, 0.3, 0.6, 0.4, 0.55, 0.35, 0.65, 0.45, 0.3, 0.5, 0.6, 0.4,
  0.35, 0.6, 0.4, 0.5, 0.3, 0.55, 0.45, 0.7, 0.35, 0.5, 0.4, 0.6, 0.3, 0.55, 0.45, 0.35, 0.65, 0.4, 0.5, 0.75,
  0.5, 0.4, 0.55, 0.35, 0.65, 0.45, 0.3, 0.6, 0.5, 0.4, 0.85, 0.35, 0.55, 0.45, 0.3, 0.6, 0.4, 0.5, 0.35, 0.65,
  0.45, 0.55, 0.3, 0.6, 0.4, 0.5, 0.7, 0.35, 0.45, 0.55, 0.4, 0.3, 0.65, 0.5, 0.45, 0.35, 0.6, 0.4, 0.55, 0.3,
  0.6, 0.35, 0.5, 0.45, 0.3, 0.65, 0.4, 0.55, 0.35, 0.7, 0.45, 0.5, 0.4, 0.6, 0.3, 0.55, 0.45, 0.35, 0.65, 0.5,
  0.4, 0.55, 0.65, 0.35, 0.5, 0.45, 0.6, 0.3, 0.55, 0.4, 0.5, 0.75, 0.35, 0.45, 0.6, 0.4, 0.5, 0.3, 0.55, 0.45,
  0.5, 0.3, 0.45, 0.6, 0.4, 0.55, 0.35, 0.65, 0.45, 0.5, 0.3, 0.6, 0.4, 0.7, 0.45, 0.55, 0.35, 0.5, 0.6, 0.4,
  0.45, 0.6, 0.35, 0.5, 0.7, 0.4, 0.55, 0.3, 0.65, 0.45, 0.5, 0.35, 0.6, 0.4, 0.8, 0.5, 0.45, 0.55, 0.65, 0.7,
  0.5,
];
const alaChiIAMPeaks = [
  [154, 17.9], [2, 6.4], [42, 6.9], [8, 5.6], [16, 5.3], [90, 5.2], [6, 4.7], [12, 4.1], [20, 3.65], [63, 3.9],
  [60, 3.0], [68, 2.9], [28, 2.5], [45, 2.3], [244, 3.9], [194, 3.1], [180, 2.3], [210, 2.2], [225, 1.9], [10, 2.0],
  [100, 1.7], [109, 1.5], [262, 1.45], [344, 1.45], [398, 1.2], [941, 1.2], [1035, 1.05], [1250, 0.9], [1520, 1.3], [1496, 0.9],
  [1656, 1.1], [1707, 1.05], [1933, 0.75], [1935, 1.05], [2010, 0.85], [2081, 2.1], [2268, 1.4], [2275, 1.15], [2317, 1.7], [2330, 1.1],
];
const alaChiIAMCloud = [
  [3, 2.1], [5, 1.6], [7, 3.0], [9, 1.2], [11, 2.6], [13, 1.9], [15, 0.9], [17, 1.4], [19, 2.2], [21, 0.7],
  [23, 1.7], [26, 1.1], [30, 2.0], [33, 0.8], [36, 1.5], [39, 1.0], [43, 1.8], [47, 0.6], [50, 1.3], [54, 1.9],
  [57, 0.9], [62, 1.5], [66, 0.7], [70, 1.9], [74, 1.2], [78, 1.6], [82, 0.8], [86, 1.4], [94, 1.0], [98, 0.6],
  [104, 1.7], [114, 1.1], [118, 0.7], [124, 1.3], [130, 0.8], [136, 1.0], [142, 0.6], [148, 1.2], [160, 0.9], [166, 1.5],
  [172, 1.1], [176, 2.0], [186, 1.3], [190, 2.4], [198, 1.6], [202, 0.9], [206, 1.9], [214, 1.2], [218, 2.6], [222, 1.4],
  [228, 0.8], [232, 1.7], [236, 1.1], [240, 2.0], [248, 1.3], [252, 0.7], [256, 1.6], [266, 1.0], [270, 0.6], [276, 1.2],
  [282, 0.7], [290, 0.9], [298, 0.6], [306, 0.8], [316, 0.6], [324, 0.9], [336, 0.7], [352, 0.8], [366, 0.6], [380, 0.7],
  [390, 0.9], [410, 0.8], [425, 0.6], [440, 0.7], [460, 0.65], [500, 0.6], [540, 0.55], [590, 0.8], [680, 0.7], [720, 0.6],
];

// ---------------- styling ----------------
const FONT = "'Liberation Sans', Arial, Helvetica, sans-serif";
const TEXT = '#404040';
const AXIS = '#595959';
const GRID = '#d9d9d9';
const BLUE = '#0000ee';
const GREEN = '#00ee00';
const LINE_COLORS = ['#ff0000', '#ffc000', '#92d050'];

type Part = { t: string; k: 'n' | 'sup' | 'sub' };
const ySigmaTitle: Part[] = [
  { t: '|F', k: 'n' }, { t: '2', k: 'sup' }, { t: 'O', k: 'sub' }, { t: '-F', k: 'n' }, { t: '2', k: 'sup' },
  { t: 'C', k: 'sub' }, { t: '|/σ(F', k: 'n' }, { t: '2', k: 'sup' }, { t: 'O', k: 'sub' }, { t: ')', k: 'n' },
];
const yChiTitle: Part[] = [
  { t: '(F', k: 'n' }, { t: '2', k: 'sup' }, { t: 'O', k: 'sub' }, { t: '-F', k: 'n' }, { t: '2', k: 'sup' },
  { t: 'C', k: 'sub' }, { t: ')', k: 'n' }, { t: '2', k: 'sup' }, { t: '/F', k: 'n' }, { t: '2', k: 'sup' }, { t: 'C', k: 'sub' },
];

type Pt = { x: number; y: number };
const indexed = (ys: number[]): Pt[] => ys.map((y, i) => ({ x: i + 1, y }));
const band = (first: number, step: number, ys: number[]): Pt[] => ys.map((y, i) => ({ x: first + i * step, y }));
const tuples = (arr: number[][]): Pt[] => arr.map(([x, y]) => ({ x, y }));

type Series = { label: string; points: Pt[]; style: string; color: string; radius: number };
type Panel = {
  key: string;
  box: { left: number; top: number; width: number; height: number };
  area: { l: number; t: number; r: number; b: number };
  xMax: number; xTicks: number[]; yMax: number;
  xTickPad: number; xTitleY: number;
  series: Series[];
  lines: number[]; lineTop: number; labelDy: number; labelDx: number[];
  legend: { mx: number; tx: number; y1: number; y2: number; rI: number; rH: number };
  yTitle: Part[]; yTitleX: number; yTitleY: number;
};

const panels: Panel[] = [
  {
    key: 'a', box: { left: 0, top: 0, width: 650, height: 470 }, area: { l: 92, t: 59, r: 646, b: 407 },
    xMax: 97, xTicks: cafXTicks, yMax: 30, xTickPad: 8, xTitleY: 455,
    series: [
      { label: 'HAR', points: indexed(cafSigmaHAR), style: 'triangle', color: GREEN, radius: 4.6 },
      { label: 'IAM', points: indexed(cafSigmaIAM), style: 'rectRot', color: BLUE, radius: 4 },
    ],
    lines: cafLineX, lineTop: 27, labelDy: 11, labelDx: [9, 11, 11],
    legend: { mx: 599, tx: 608, y1: 78, y2: 113, rI: 4, rH: 4.6 },
    yTitle: ySigmaTitle, yTitleX: 27, yTitleY: 246,
  },
  {
    key: 'b', box: { left: 650, top: 0, width: 635, height: 470 }, area: { l: 721, t: 59, r: 1270, b: 407 },
    xMax: 2405, xTicks: alaXTicks, yMax: 30, xTickPad: 8, xTitleY: 455,
    series: [
      {
        label: 'HAR',
        points: [
          ...band(alaSigmaHARFirst, alaSigmaHARStep, alaSigmaHARBand),
          ...band(alaSigmaHARFirst2, alaSigmaHARStep, alaSigmaHARBand2),
          ...band(alaSigmaHARFirst3, alaSigmaHARStep, alaSigmaHARBand3),
          ...tuples(alaSigmaHARPeaks),
        ],
        style: 'triangle', color: GREEN, radius: 3.6,
      },
      {
        label: 'IAM',
        points: [
          ...band(alaSigmaIAMFirst, alaSigmaIAMStep, alaSigmaIAMBand),
          ...tuples(alaSigmaIAMCloud),
          ...tuples(alaSigmaIAMPeaks),
        ],
        style: 'rectRot', color: BLUE, radius: 2.6,
      },
    ],
    lines: alaLineX, lineTop: 27, labelDy: 11, labelDx: [0, 6, 8],
    legend: { mx: 1235, tx: 1244, y1: 79, y2: 113, rI: 2.5, rH: 3 },
    yTitle: ySigmaTitle, yTitleX: 662, yTitleY: 246,
  },
  {
    key: 'c', box: { left: 0, top: 440, width: 650, height: 439 }, area: { l: 92, t: 475, r: 646, b: 821 },
    xMax: 97, xTicks: cafXTicks, yMax: 36, xTickPad: 12, xTitleY: 868,
    series: [
      { label: 'HAR', points: indexed(cafChiHAR), style: 'triangle', color: GREEN, radius: 4.6 },
      { label: 'IAM', points: indexed(cafChiIAM), style: 'rectRot', color: BLUE, radius: 4 },
    ],
    lines: cafLineX, lineTop: 33.3, labelDy: 9, labelDx: [4, 10, 11],
    legend: { mx: 599, tx: 608, y1: 493, y2: 528, rI: 4, rH: 4.6 },
    yTitle: yChiTitle, yTitleX: 27, yTitleY: 655,
  },
  {
    key: 'd', box: { left: 650, top: 440, width: 635, height: 439 }, area: { l: 723, t: 475, r: 1270, b: 821 },
    xMax: 2400, xTicks: alaXTicks, yMax: 24, xTickPad: 12, xTitleY: 868,
    series: [
      {
        label: 'HAR',
        points: [...band(alaChiHARFirst, alaChiHARStep, alaChiHARBand), ...tuples(alaChiHARPeaks)],
        style: 'triangle', color: GREEN, radius: 3.4,
      },
      {
        label: 'IAM',
        points: [...band(alaChiIAMFirst, alaChiIAMStep, alaChiIAMBand), ...tuples(alaChiIAMCloud), ...tuples(alaChiIAMPeaks)],
        style: 'rectRot', color: BLUE, radius: 2.6,
      },
    ],
    lines: alaLineX, lineTop: 21, labelDy: 19, labelDx: [-1, 6, 1],
    legend: { mx: 1236, tx: 1245, y1: 493, y2: 528, rI: 2.5, rH: 3 },
    yTitle: yChiTitle, yTitleX: 662, yTitleY: 652,
  },
];

function drawMarker(ctx: CanvasRenderingContext2D, style: string, x: number, y: number, r: number, color: string) {
  ctx.beginPath();
  if (style === 'rectRot') {
    ctx.moveTo(x, y - r); ctx.lineTo(x + r, y); ctx.lineTo(x, y + r); ctx.lineTo(x - r, y);
  } else {
    ctx.moveTo(x, y - r); ctx.lineTo(x + r * 0.866, y + r * 0.5); ctx.lineTo(x - r * 0.866, y + r * 0.5);
  }
  ctx.closePath();
  ctx.fillStyle = color;
  ctx.fill();
}

function drawRich(ctx: CanvasRenderingContext2D, parts: Part[], cx: number, cy: number, size: number) {
  const fN = `${size}px ${FONT}`;
  const fS = `${Math.round(size * 0.7)}px ${FONT}`;
  ctx.save();
  ctx.translate(cx, cy);
  ctx.rotate(-Math.PI / 2);
  let total = 0;
  const widths = parts.map((p) => {
    ctx.font = p.k === 'n' ? fN : fS;
    const w = ctx.measureText(p.t).width;
    total += w;
    return w;
  });
  let x = -total / 2;
  const base = size * 0.36;
  ctx.fillStyle = TEXT;
  ctx.textAlign = 'left';
  ctx.textBaseline = 'alphabetic';
  parts.forEach((p, i) => {
    ctx.font = p.k === 'n' ? fN : fS;
    const dy = p.k === 'sup' ? -size * 0.4 : p.k === 'sub' ? size * 0.22 : 0;
    ctx.fillText(p.t, x, base + dy);
    x += widths[i];
  });
  ctx.restore();
}

function makeDecor(p: Panel) {
  return {
    id: 'decor_' + p.key,
    beforeDatasetsDraw(chart: any) {
      const { ctx, scales } = chart;
      const xs = scales.x;
      const ys = scales.y;
      ctx.save();
      ctx.lineWidth = 2;
      p.lines.forEach((v, i) => {
        const px = Math.round(xs.getPixelForValue(v));
        ctx.strokeStyle = LINE_COLORS[i];
        ctx.beginPath();
        ctx.moveTo(px, ys.getPixelForValue(p.lineTop));
        ctx.lineTo(px, ys.getPixelForValue(0));
        ctx.stroke();
      });
      ctx.restore();
    },
    afterDraw(chart: any) {
      const { ctx, scales } = chart;
      const xs = scales.x;
      const ys = scales.y;
      const ox = p.box.left;
      const oy = p.box.top;
      ctx.save();
      ctx.font = `17px ${FONT}`;
      ctx.fillStyle = TEXT;
      ctx.textAlign = 'center';
      ctx.textBaseline = 'middle';
      p.lines.forEach((v, i) => {
        ctx.fillText(lineLabels[i], xs.getPixelForValue(v) + p.labelDx[i], ys.getPixelForValue(p.lineTop) - p.labelDy);
      });
      drawMarker(ctx, 'rectRot', p.legend.mx - ox, p.legend.y1 - oy, p.legend.rI, BLUE);
      drawMarker(ctx, 'triangle', p.legend.mx - ox, p.legend.y2 - oy + 0.5, p.legend.rH, GREEN);
      ctx.font = `19px ${FONT}`;
      ctx.fillStyle = TEXT;
      ctx.textAlign = 'left';
      ctx.fillText('IAM', p.legend.tx - ox, p.legend.y1 - oy);
      ctx.fillText('HAR', p.legend.tx - ox, p.legend.y2 - oy);
      drawRich(ctx, p.yTitle, p.yTitleX - ox, p.yTitleY - oy, 19);
      ctx.restore();
    },
  };
}

function PanelChart({ p }: { p: Panel }) {
  const ref = useRef<HTMLCanvasElement | null>(null);
  useEffect(() => {
    const canvas = ref.current;
    if (!canvas) return;
    const yAxisW = p.area.l - p.box.left;
    const xAxisH = p.box.top + p.box.height - p.area.b;
    const titlePadB = Math.max(0, p.box.top + p.box.height - p.xTitleY - 19 * 1.2 / 2);
    const chart = new Chart(canvas, {
      type: 'scatter',
      data: {
        datasets: p.series.map((s) => ({
          label: s.label,
          data: s.points,
          pointStyle: s.style as any,
          pointRadius: s.radius,
          pointHoverRadius: s.radius,
          pointBackgroundColor: s.color,
          backgroundColor: s.color,
          borderColor: s.color,
          pointBorderWidth: 0,
          borderWidth: 0,
          showLine: false,
          clip: false as any,
        })),
      },
      options: {
        responsive: false,
        maintainAspectRatio: false,
        animation: false,
        events: [],
        layout: { padding: { left: 0, top: p.area.t - p.box.top, right: p.box.left + p.box.width - p.area.r, bottom: 0 } },
        plugins: { legend: { display: false }, tooltip: { enabled: false }, title: { display: false } },
        scales: {
          x: {
            type: 'linear',
            min: 0,
            max: p.xMax,
            afterFit: (s: any) => { s.height = xAxisH; s.paddingLeft = 0; s.paddingRight = 0; },
            afterBuildTicks: (s: any) => { s.ticks = p.xTicks.map((v) => ({ value: v })); },
            ticks: {
              autoSkip: false,
              maxRotation: 0,
              padding: p.xTickPad,
              color: TEXT,
              font: { family: FONT, size: 20 },
              callback: (v: any) => String(v),
            },
            grid: { display: false, drawTicks: false },
            border: { display: true, color: AXIS, width: 2 },
            title: {
              display: true,
              text: 'reflections sorted by d spacing',
              color: TEXT,
              font: { family: FONT, size: 19 },
              padding: { top: 0, bottom: titlePadB },
            },
          },
          y: {
            type: 'linear',
            min: 0,
            max: p.yMax,
            afterFit: (s: any) => { s.width = yAxisW; s.paddingTop = 0; s.paddingBottom = 0; },
            ticks: {
              stepSize: yTickStep,
              padding: 12,
              color: TEXT,
              font: { family: FONT, size: 20 },
              callback: (v: any) => String(v),
            },
            grid: {
              drawTicks: false,
              lineWidth: 1,
              color: (c: any) => (c.tick && c.tick.value === 0 ? 'rgba(0,0,0,0)' : GRID),
            },
            border: { display: true, color: AXIS, width: 2, dash: [4, 3] },
          },
        },
      } as any,
      plugins: [makeDecor(p)],
    });
    return () => chart.destroy();
  }, [p]);
  return (
    <canvas
      ref={ref}
      width={p.box.width}
      height={p.box.height}
      style={{ position: 'absolute', left: p.box.left, top: p.box.top, width: p.box.width, height: p.box.height }}
    />
  );
}

const abs = (left: number, top: number, extra: React.CSSProperties = {}): React.CSSProperties => ({
  position: 'absolute', left, top, whiteSpace: 'nowrap', fontFamily: FONT, color: '#111', lineHeight: 1.15, ...extra,
});

export default function App() {
  return (
    <div style={{ position: 'absolute', left: 0, top: 0, width: 1285, height: 879, overflow: 'hidden', background: '#fff', fontFamily: FONT }}>
      {panels.map((p) => (
        <PanelChart key={p.key} p={p} />
      ))}
      <div style={abs(27, 36, { fontSize: 28, transform: 'translateY(-50%)' })}>a)</div>
      <div style={abs(658, 36, { fontSize: 28, transform: 'translateY(-50%)' })}>b)</div>
      <div style={abs(27, 457, { fontSize: 28, transform: 'translateY(-50%)' })}>c)</div>
      <div style={abs(658, 452, { fontSize: 28, transform: 'translateY(-50%)' })}>d)</div>
      <div style={abs(354, 30, { fontSize: 29, transform: 'translate(-50%, -50%)' })}>
        CaF<span style={{ fontSize: '0.6em', position: 'relative', top: '0.35em' }}>2</span>
      </div>
      <div style={abs(1008, 27, { fontSize: 30, transform: 'translate(-50%, -50%)' })}>Alanine</div>
      <div style={abs(1212, 10, { fontSize: 16, color: '#6a6a6a', transform: 'translateY(-50%)' })}>View Article Online</div>
      <div style={abs(1113, 30, { fontSize: 18.5, color: '#6a6a6a', transform: 'translateY(-50%)' })}>DOI: 10.1039/D0SC01234J</div>
    </div>
  );
}
